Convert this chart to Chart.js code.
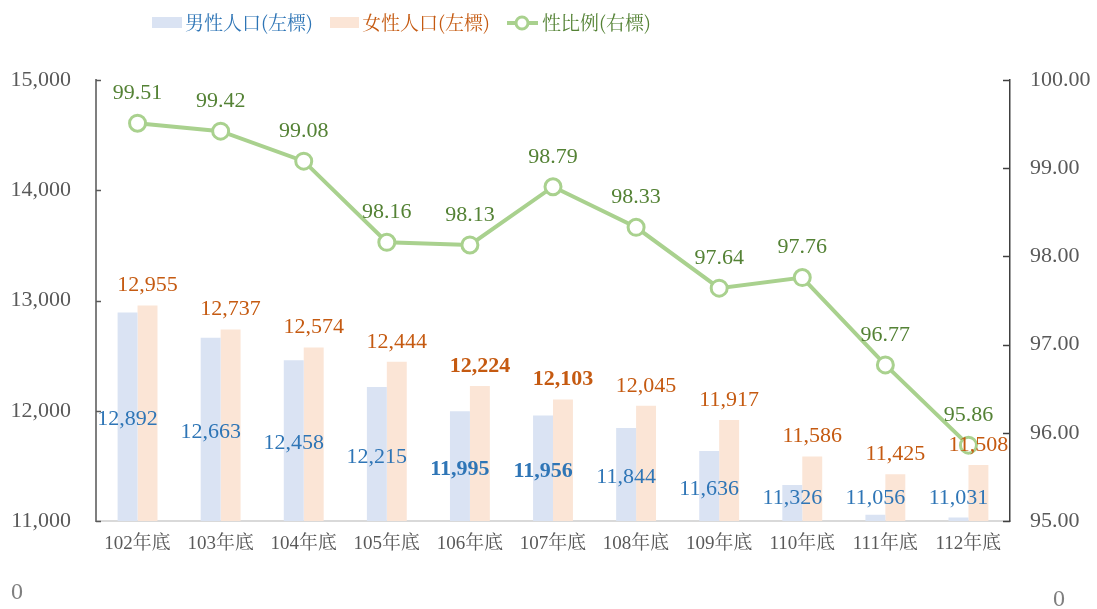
<!DOCTYPE html>
<html lang="zh-Hant">
<head>
<meta charset="UTF-8">
<title>性比例</title>
<script src="https://cdn.jsdelivr.net/npm/chart.js"></script>
<style>
  body { margin: 0; background: #fff; }
</style>
</head>
<body>
<canvas id="grafico" width="1097" height="609"></canvas>
<script>
// datos
const years = ['102年底', '103年底', '104年底', '105年底', '106年底', '107年底', '108年底', '109年底', '110年底', '111年底', '112年底'];
const male = [12892, 12663, 12458, 12215, 11995, 11956, 11844, 11636, 11326, 11056, 11031];
const female = [12955, 12737, 12574, 12444, 12224, 12103, 12045, 11917, 11586, 11425, 11508];
const ratio = [99.51, 99.42, 99.08, 98.16, 98.13, 98.79, 98.33, 97.64, 97.76, 96.77, 95.86];
const leftTicks = [11000, 12000, 13000, 14000, 15000];
const rightTicks = [95, 96, 97, 98, 99, 100];
const boldIdx = [4, 5];

const numFont = '"Liberation Serif", "Noto Serif CJK TC", "Noto Sans CJK TC", serif';
const cjkFont = '"Noto Serif CJK TC", "Noto Sans CJK TC", serif';
const blueTxt = '#2e75b6';
const orangeTxt = '#c55a11';
const greenTxt = '#548235';
const gray = '#595959';

const fmt = v => v.toLocaleString('en-US');

const etiquetas = {
  id: 'etiquetas',
  afterDatasetsDraw(chart) {
    const ctx = chart.ctx;
    const area = chart.chartArea;
    ctx.save();
    ctx.textAlign = 'center';
    ctx.textBaseline = 'middle';
    chart.getDatasetMeta(0).data.forEach((bar, i) => {
      const y = Math.min((bar.y + area.bottom) / 2 + 3, area.bottom - 23);
      ctx.font = (boldIdx.includes(i) ? 'bold ' : '') + '22px ' + numFont;
      ctx.fillStyle = blueTxt;
      ctx.fillText(fmt(male[i]), bar.x, y);
    });
    chart.getDatasetMeta(1).data.forEach((bar, i) => {
      ctx.font = (boldIdx.includes(i) ? 'bold ' : '') + '22px ' + numFont;
      ctx.fillStyle = orangeTxt;
      ctx.fillText(fmt(female[i]), bar.x, bar.y - 20);
    });
    chart.getDatasetMeta(2).data.forEach((pt, i) => {
      ctx.font = '22px ' + numFont;
      ctx.fillStyle = greenTxt;
      ctx.fillText(ratio[i].toFixed(2), pt.x, pt.y - 30);
    });
    ctx.restore();
  },
  afterDraw(chart) {
    const ctx = chart.ctx;
    const area = chart.chartArea;
    const y = chart.scales.y, y1 = chart.scales.y1;
    ctx.save();
    // marcas hacia dentro
    ctx.strokeStyle = '#595959';
    ctx.lineWidth = 1.5;
    leftTicks.forEach(v => {
      const py = Math.round(y.getPixelForValue(v)) + 0.5;
      ctx.beginPath(); ctx.moveTo(area.left, py); ctx.lineTo(area.left + 5, py); ctx.stroke();
    });
    ctx.strokeStyle = '#404040';
    rightTicks.forEach(v => {
      const py = Math.round(y1.getPixelForValue(v)) + 0.5;
      ctx.beginPath(); ctx.moveTo(area.right - 7, py); ctx.lineTo(area.right, py); ctx.stroke();
    });

    // leyenda
    ctx.textBaseline = 'middle';
    ctx.textAlign = 'left';
    ctx.font = '19px ' + cjkFont;
    ctx.fillStyle = '#dae3f3';
    ctx.fillRect(152, 17, 30, 11);
    ctx.fillStyle = blueTxt;
    ctx.fillText('男性人口(左標)', 185, 23);
    ctx.fillStyle = '#fbe5d6';
    ctx.fillRect(330, 17, 29, 11);
    ctx.fillStyle = orangeTxt;
    ctx.fillText('女性人口(左標)', 362, 23);
    ctx.strokeStyle = '#a9d18e';
    ctx.lineWidth = 4;
    ctx.beginPath(); ctx.moveTo(507, 23); ctx.lineTo(538, 23); ctx.stroke();
    ctx.fillStyle = '#fff';
    ctx.lineWidth = 3;
    ctx.beginPath(); ctx.arc(522, 23, 6, 0, Math.PI * 2); ctx.fill(); ctx.stroke();
    ctx.fillStyle = greenTxt;
    ctx.fillText('性比例(右標)', 542, 23);

    // ceros sueltos
    ctx.fillStyle = '#7f7f7f';
    ctx.font = '24px ' + numFont;
    ctx.fillText('0', 11, 593);
    ctx.fillText('0', 1053, 600);
    ctx.restore();
  }
};

const ctx = document.getElementById('grafico').getContext('2d');
new Chart(ctx, {
  data: {
    labels: years,
    datasets: [
      {
        type: 'bar',
        label: '男性人口(左標)',
        data: male,
        backgroundColor: '#dae3f3',
        yAxisID: 'y',
        order: 2,
        categoryPercentage: 0.48,
        barPercentage: 1.0
      },
      {
        type: 'bar',
        label: '女性人口(左標)',
        data: female,
        backgroundColor: '#fbe5d6',
        yAxisID: 'y',
        order: 2,
        categoryPercentage: 0.48,
        barPercentage: 1.0
      },
      {
        type: 'line',
        label: '性比例(右標)',
        data: ratio,
        borderColor: '#a9d18e',
        borderWidth: 4,
        tension: 0,
        pointRadius: 8,
        pointBorderWidth: 3,
        pointBackgroundColor: '#ffffff',
        pointBorderColor: '#a9d18e',
        yAxisID: 'y1',
        order: 1
      }
    ]
  },
  options: {
    responsive: false,
    animation: false,
    layout: { padding: { top: 80, left: 0, right: 0, bottom: 0 } },
    plugins: {
      legend: { display: false },
      tooltip: { enabled: false }
    },
    scales: {
      x: {
        grid: { display: false, drawTicks: false },
        border: { color: '#d9d9d9', width: 2 },
        ticks: { color: gray, padding: 12, font: { size: 19, family: numFont } },
        afterFit: s => { s.height = 88; }
      },
      y: {
        position: 'left',
        min: 11000,
        max: 15000,
        grid: { display: false, drawTicks: false },
        border: { color: '#7f7f7f', width: 2 },
        ticks: {
          stepSize: 1000,
          color: gray,
          padding: 25,
          font: { size: 22, family: numFont },
          callback: v => fmt(v)
        },
        afterFit: s => { s.width = 96; }
      },
      y1: {
        position: 'right',
        min: 95,
        max: 100,
        grid: { display: false, drawTicks: false },
        border: { color: '#404040', width: 1.5 },
        ticks: {
          stepSize: 1,
          color: gray,
          padding: 20,
          font: { size: 22, family: numFont },
          callback: v => v.toFixed(2)
        },
        afterFit: s => { s.width = 87; }
      }
    }
  },
  plugins: [etiquetas]
});
</script>
</body>
</html>
